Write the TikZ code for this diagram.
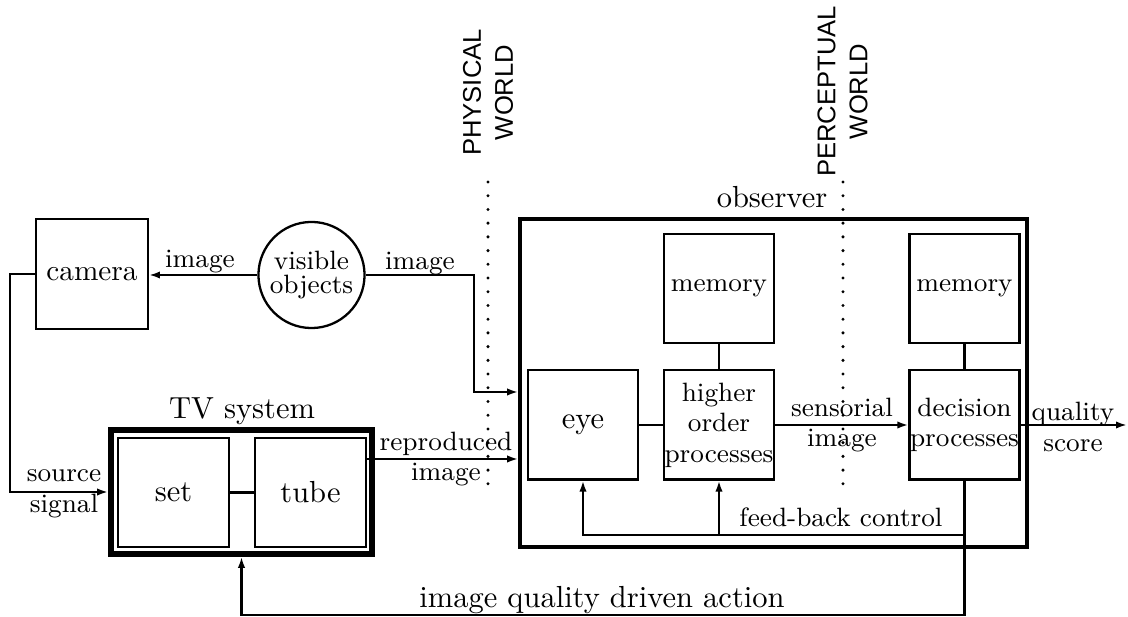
\documentclass[tikz,border=0pt]{standalone}
\usepackage{fontspec}
\newfontfamily\sanslab{Liberation Sans}
\usetikzlibrary{arrows.meta}
\newcommand\fsmall{\fontsize{8.7pt}{10pt}\selectfont}
\newcommand\fcirc{\fontsize{8.7pt}{7.8pt}\selectfont}
\newcommand\fbig{\fontsize{10pt}{12pt}\selectfont}
\newcommand\fcam{\fontsize{9.6pt}{11pt}\selectfont}
\newcommand\fsans{\sanslab\fontsize{8.4pt}{10.5pt}\selectfont}
\begin{document}
\begin{tikzpicture}[x=0.328pt,y=-0.328pt,
 box/.style={draw, line width=0.7pt, inner sep=0pt, minimum width=36.1pt, minimum height=35.8pt, align=center, font=\fsmall},
 arr/.style={-{Latex[length=3.6pt,width=2.4pt]}, line width=0.7pt},
 ln/.style={line width=0.7pt},
 lab/.style={font=\fsmall, align=center, inner sep=0pt},
 dotline/.style={line width=1.1pt, line cap=round, dash pattern=on 0pt off 4.5pt},
 ]
\useasboundingbox (0,0) rectangle (1128,617);

% world labels
\node[font=\fsans, rotate=90, align=center, inner sep=0pt] (phys) at (488,92.5) {PHYSICAL\\WORLD};
\node[font=\fsans, rotate=90, align=center, inner sep=0pt] (perc) at (842.5,91.5) {PERCEPTUAL\\WORLD};
\coordinate (pa) at (488,182);
\coordinate (pb) at (488,495);
\coordinate (qa) at (843,182);
\coordinate (qb) at (843,495);
\draw[dotline] (pa) -- (pb);
\draw[dotline] (qa) -- (qb);

% left part
\node[box, font=\fcam, minimum width=36.7pt, minimum height=36.1pt] (camera) at (92,274) {camera};
\node[draw, circle, line width=0.75pt, minimum size=34.8pt, inner sep=0pt, align=center, font=\fcirc] (vis) at (311.5,275) {visible\\objects};

% TV system
\node[draw, line width=1.2pt, minimum width=86.3pt, minimum height=41.3pt, inner sep=0pt] (tv) at (241.5,492) {};
\draw[line width=0.55pt] ([shift={(5,5)}]tv.north west) rectangle ([shift={(-5,-5)}]tv.south east);
\node[font=\fbig, anchor=base] (tvlab) at (242,419) {TV system};
\node[box, font=\fbig, minimum width=36.4pt] (set) at (173.5,492.5) {set};
\node[box, font=\fbig, minimum width=36.4pt] (tube) at (310.5,492.5) {tube};

% observer
\node[draw, line width=1.2pt, minimum width=166.3pt, minimum height=107.6pt, inner sep=0pt] (obs) at (773.5,383) {};
\node[font=\fbig, anchor=base] (obslab) at (772,208) {observer};
\node[box, font=\fbig] (eye) at (583,425) {eye};
\node[box] (mem1) at (719,288.5) {memory};
\node[box] (higher) at (719,425) {higher\\order\\processes};
\node[box] (mem2) at (964.5,288.5) {memory};
\node[box] (dec) at (964.5,425) {decision\\processes};

% connectors
\draw[arr] (vis.west) -- (vis.west -| camera.east);
\node[lab, anchor=base] (l1) at (200,268) {image};

\coordinate (c1) at (10,493);
\draw[arr] (camera.west) -- (camera.west -| c1) |- (tv.west);
\node[lab] (l3) at (64,494) {source\\signal};

\draw[ln] (set) -- (tube);

\coordinate (repy) at (0,459);
\draw[arr] (tube.east |- repy) -- (obs.west |- repy);
\node[lab] (l4) at (446,459) {reproduced\\image};

\coordinate (bend) at (474,392);
\draw[arr] (vis.east) -| (bend) -- (bend -| obs.west);
\node[lab, anchor=base] (l2) at (420,270) {image};

\draw[ln] (eye) -- (higher);
\draw[ln] (mem1) -- (higher);
\draw[ln] (mem2) -- (dec);

\draw[arr] (higher) -- (dec);
\node[lab] (l5) at (842,425) {sensorial\\image};

\coordinate (qend) at (1127,425);
\draw[arr] (dec) -- (qend);
\node[lab] (l6) at (1073,427) {quality\\score};

\coordinate (fb) at (0,535);
\draw[arr] (dec.south) -- (dec.south |- fb) -| (eye.south);
\draw[arr] (higher.south |- fb) -- (higher.south);
\node[lab, anchor=base] (l7) at (841,527) {feed-back control};

\coordinate (iq) at (0,615);
\draw[arr] (dec.south) -- (dec.south |- iq) -| (tv.south);
\node[font=\fbig, anchor=base] (l8) at (602,608) {image quality driven action};
\end{tikzpicture}
\end{document}
